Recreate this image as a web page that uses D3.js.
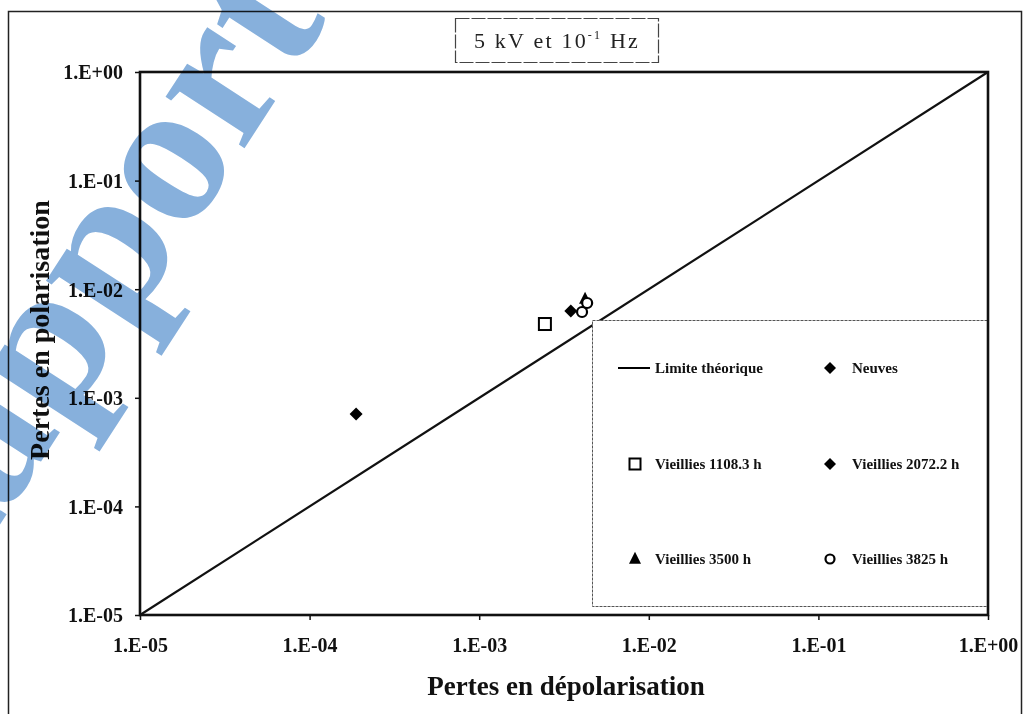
<!DOCTYPE html>
<html>
<head>
<meta charset="utf-8">
<script src="https://cdn.jsdelivr.net/npm/d3@7"></script>
<style>
  html, body { margin: 0; padding: 0; background: #fff; }
  svg { display: block; }
  text { font-family: "Liberation Serif", "Times New Roman", serif; }
</style>
</head>
<body>
<svg id="chart" width="1023" height="714"></svg>
<script>
// Decade ticks shared by both log axes
const tickValues = [1e-5, 1e-4, 1e-3, 1e-2, 1e-1, 1];
const tickLabels = ["1.E-05", "1.E-04", "1.E-03", "1.E-02", "1.E-01", "1.E+00"];

// Theoretical limit: polarisation losses equal depolarisation losses
const limitX = [1e-5, 1];
const limitY = [1e-5, 1];

// Measured losses per sample group (x = dépolarisation, y = polarisation)
const neuvesX = [1.88e-4];
const neuvesY = [7.1e-4];
const v1108X = [2.44e-3];
const v1108Y = [4.78e-3];
const v2072X = [3.47e-3];
const v2072Y = [6.30e-3];
const v3500X = [4.21e-3];
const v3500Y = [8.13e-3];
const v3825X = [4.04e-3, 4.33e-3];
const v3825Y = [6.17e-3, 7.46e-3];

const legendLabels = [
  "Limite théorique", "Neuves",
  "Vieillies 1108.3 h", "Vieillies 2072.2 h",
  "Vieillies 3500 h", "Vieillies 3825 h"
];

const svg = d3.select("#chart");
const plot = { left: 140, right: 988, top: 72, bottom: 615 };

const x = d3.scaleLog().domain([1e-5, 1]).range([plot.left, plot.right]);
const y = d3.scaleLog().domain([1e-5, 1]).range([plot.bottom, plot.top]);

// Outer page frame
svg.append("rect")
  .attr("x", 8.5).attr("y", 11.5).attr("width", 1013).attr("height", 740)
  .attr("fill", "none").attr("stroke", "#222").attr("stroke-width", 1.5);

// Title box
svg.append("rect")
  .attr("x", 455.5).attr("y", 18.5).attr("width", 203).attr("height", 44)
  .attr("fill", "#fff").attr("stroke", "#444").attr("stroke-width", 1.2)
  .attr("stroke-dasharray", "14,2");
const title = svg.append("text")
  .attr("x", 557).attr("y", 48)
  .attr("text-anchor", "middle")
  .attr("font-size", 22).attr("letter-spacing", 2.2).attr("fill", "#222");
title.append("tspan").text("5 kV  et 10");
title.append("tspan").attr("dy", -9).attr("font-size", 12).text("-1");
title.append("tspan").attr("dy", 9).text(" Hz");

const fmt = d => tickLabels[tickValues.indexOf(d)];

// Axes
const xAxis = svg.append("g")
  .attr("transform", `translate(0,${plot.bottom})`)
  .call(d3.axisBottom(x).tickValues(tickValues).tickFormat(fmt).tickSize(5).tickPadding(18));
const yAxis = svg.append("g")
  .attr("transform", `translate(${plot.left},0)`)
  .call(d3.axisLeft(y).tickValues(tickValues).tickFormat(fmt).tickSize(5).tickPadding(12));
[xAxis, yAxis].forEach(g => {
  g.select(".domain").remove();
  g.selectAll(".tick line").attr("stroke", "#111").attr("stroke-width", 1.5);
  g.selectAll(".tick text")
    .attr("font-family", "'Liberation Serif', 'Times New Roman', serif")
    .attr("font-weight", "bold").attr("font-size", 20).attr("fill", "#111");
});
yAxis.selectAll(".tick text").attr("dy", "0.34em");

// Diagonal limit line
svg.append("path")
  .datum(d3.zip(limitX, limitY))
  .attr("d", d3.line().x(d => x(d[0])).y(d => y(d[1])))
  .attr("fill", "none").attr("stroke", "#111").attr("stroke-width", 2.2);

// Legend box (opaque, sits above the limit line)
const legend = { x: 592.5, y: 320.5, w: 396, h: 286 };
svg.append("rect")
  .attr("x", legend.x).attr("y", legend.y).attr("width", legend.w).attr("height", legend.h)
  .attr("fill", "#fff").attr("stroke", "#555").attr("stroke-width", 1)
  .attr("stroke-dasharray", "3,1");

// Plot frame
svg.append("rect")
  .attr("x", plot.left).attr("y", plot.top)
  .attr("width", plot.right - plot.left).attr("height", plot.bottom - plot.top)
  .attr("fill", "none").attr("stroke", "#111").attr("stroke-width", 2.6);

// Marker drawing helpers
function diamond(g, cx, cy, r) {
  g.append("path")
    .attr("d", `M${cx},${cy - r}L${cx + r},${cy}L${cx},${cy + r}L${cx - r},${cy}Z`)
    .attr("fill", "#000");
}
function square(g, cx, cy, s) {
  g.append("rect")
    .attr("x", cx - s / 2).attr("y", cy - s / 2).attr("width", s).attr("height", s)
    .attr("fill", "#fff").attr("stroke", "#000").attr("stroke-width", 2);
}
function triangle(g, cx, cy, s) {
  g.append("path")
    .attr("d", `M${cx},${cy - s * 0.6}L${cx + s / 2},${cy + s * 0.4}L${cx - s / 2},${cy + s * 0.4}Z`)
    .attr("fill", "#000");
}
function circle(g, cx, cy, r) {
  g.append("circle")
    .attr("cx", cx).attr("cy", cy).attr("r", r)
    .attr("fill", "#fff").attr("stroke", "#000").attr("stroke-width", 2.2);
}

const pts = svg.append("g");
d3.zip(neuvesX, neuvesY).forEach(d => diamond(pts, x(d[0]), y(d[1]), 6.5));
d3.zip(v1108X, v1108Y).forEach(d => square(pts, x(d[0]), y(d[1]), 12));
d3.zip(v2072X, v2072Y).forEach(d => diamond(pts, x(d[0]), y(d[1]), 6.5));
d3.zip(v3500X, v3500Y).forEach(d => triangle(pts, x(d[0]), y(d[1]), 12));
d3.zip(v3825X, v3825Y).forEach(d => circle(pts, x(d[0]), y(d[1]), 5));

// Legend entries: two columns, three rows
const colMarker = [635, 830], colText = [655, 852], rowY = [368, 464, 559];
const lg = svg.append("g");
legendLabels.forEach((label, i) => {
  const c = i % 2, r = Math.floor(i / 2);
  const mx = colMarker[c], my = rowY[r];
  if (i === 0) {
    lg.append("line").attr("x1", 618).attr("x2", 650).attr("y1", my).attr("y2", my)
      .attr("stroke", "#000").attr("stroke-width", 2);
  } else if (i === 1 || i === 3) diamond(lg, mx, my, 6);
  else if (i === 2) square(lg, mx, my, 11);
  else if (i === 4) triangle(lg, mx, my, 12);
  else circle(lg, mx, my, 4.5);
  lg.append("text")
    .attr("x", colText[c]).attr("y", my + 5)
    .attr("font-weight", "bold").attr("font-size", 15).attr("fill", "#111")
    .text(label);
});

// Axis titles
svg.append("text")
  .attr("x", 566).attr("y", 695)
  .attr("text-anchor", "middle")
  .attr("font-weight", "bold").attr("font-size", 27).attr("fill", "#111")
  .text("Pertes en dépolarisation");
svg.append("text")
  .attr("transform", "translate(49,330) rotate(-90)")
  .attr("text-anchor", "middle")
  .attr("font-weight", "bold").attr("font-size", 28).attr("fill", "#111")
  .text("Pertes en polarisation");

// Watermark lettering across the upper-left corner
svg.append("text")
  .attr("transform", "translate(-75,640) rotate(-57)")
  .attr("font-family", "'Liberation Sans', Arial, sans-serif")
  .attr("font-weight", "bold")
  .attr("font-size", 205)
  .attr("fill", "#87b0dc")
  .style("mix-blend-mode", "multiply")
  .style("pointer-events", "none")
  .text("Rapport");
</script>
</body>
</html>
